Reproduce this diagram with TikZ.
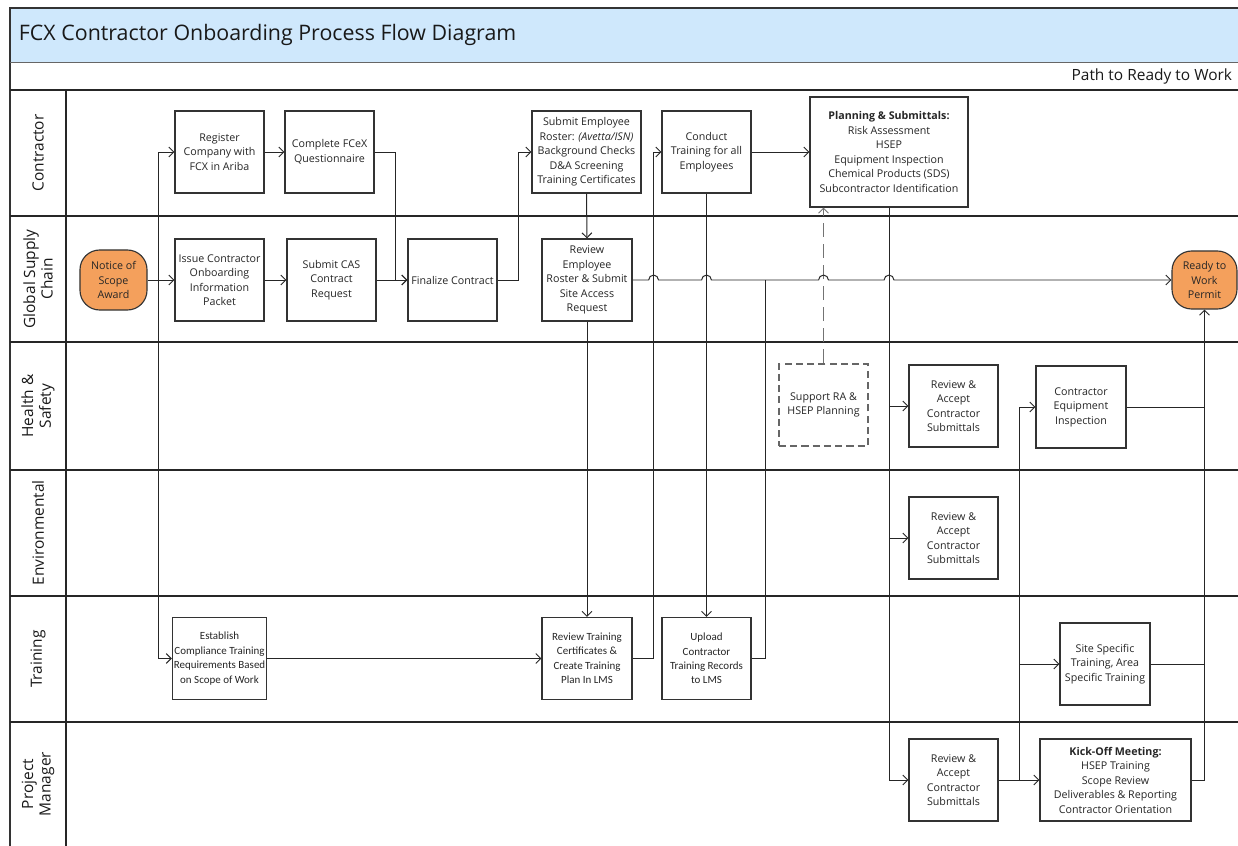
\documentclass[tikz,border=0pt]{standalone}
\usepackage{fontspec}
\setmainfont{Open Sans}
\newfontfamily\narrowfont{Carlito}
\usetikzlibrary{arrows.meta}
\definecolor{titleblue}{RGB}{207,232,252}
\definecolor{termorange}{RGB}{244,160,92}
\tikzset{
  proc/.style={draw=black!80, line width=0.8pt, fill=white, align=center, text=black!85,
    font=\fontsize{7.6}{10.3}\selectfont, minimum width=2.225cm, minimum height=2.05cm, inner sep=1pt},
  narrow/.style={font=\narrowfont\fontsize{7.8}{10.3}\selectfont},
  term/.style={proc, fill=termorange, rounded corners=14pt, minimum width=1.675cm, minimum height=1.5cm},
  flow/.style={line width=0.7pt, draw=black!85, -{Straight Barb[length=3.5pt,width=7pt]}},
  link/.style={line width=0.7pt, draw=black!85},
  lane/.style={line width=1pt, draw=black!85},
  lanelabel/.style={rotate=90, align=center, font=\fontsize{11}{12.5}\selectfont, text=black!90}
}
\newcommand{\hop}[1]{-- ([xshift=-3.5pt]rr.east -| #1) arc[start angle=180, end angle=0, radius=3.5pt]}
\begin{document}
\begin{tikzpicture}[x=0.025cm, y=-0.025cm]
    \useasboundingbox (0,0) rectangle (1238,846);
    \fill [titleblue] (10,8) rectangle (1238,62);
    \draw [black!80, line width=0.8pt] (1238,8) -- (10,8) -- (10,846);
    \draw [black!60, line width=0.6pt] (10,62) -- (1238,62);
    \foreach \y in {90,216,342,470,596,722}
        \draw [lane] (10,\y) -- (1238,\y);
    \draw [lane] (66,90) -- (66,846);
    \node [anchor=west, font=\fontsize{15.2}{17}\selectfont, text=black!90] (title) at (14,35) {FCX Contractor Onboarding Process Flow Diagram};
    \node [anchor=east, font=\fontsize{11}{12}\selectfont, text=black!90] (path) at (1237,76) {Path to Ready to Work};
    \node [lanelabel] (lcon) at (38,153) {Contractor};
    \node [lanelabel] (lgsc) at (38,279) {Global Supply\\Chain};
    \node [lanelabel] (lhs) at (38,406) {Health \&\\Safety};
    \node [lanelabel] (lenv) at (38,533) {Environmental};
    \node [lanelabel] (ltrn) at (38,659) {Training};
    \node [lanelabel] (lpm) at (38,784) {Project\\Manager};

    \node [proc] (reg) at (219.5,152) {Register\\Company with\\FCX in Ariba};
    \node [proc] (fc) at (329.5,152) {Complete FCeX\\Questionnaire};
    \node [proc, minimum width=2.725cm] (ser) at (586.5,152) {Submit Employee\\Roster: \textit{(Avetta/ISN)}\\Background Checks\\D\&A Screening\\Training Certificates};
    \node [proc] (ct) at (706.5,152) {Conduct\\Training for all\\Employees};
    \node [proc, minimum width=3.95cm, minimum height=2.75cm] (plan) at (889,152) {\textbf{Planning \& Submittals:}\\Risk Assessment\\HSEP\\Equipment Inspection\\Chemical Products (SDS)\\Subcontractor Identification};

    \node [term] (ns) at (113.5,280) {Notice of\\Scope\\Award};
    \node [proc] (ic) at (219.5,280) {Issue Contractor\\Onboarding\\Information\\Packet};
    \node [proc] (cas) at (331.5,280) {Submit CAS\\Contract\\Request};
    \node [proc] (fin) at (452.5,280) {Finalize Contract};
    \node [proc, minimum width=2.25cm] (rr) at (587,280) {Review\\Employee\\Roster \& Submit\\Site Access\\Request};
    \node [term, minimum width=1.625cm, minimum height=1.45cm] (ready) at (1204.5,280) {Ready to\\Work\\Permit};

    \node [proc, draw=black!60, dashed, dash pattern=on 5pt off 3pt] (sup) at (823.5,405) {Support RA \&\\HSEP Planning};
    \node [proc] (ra1) at (953.5,406) {Review \&\\Accept\\Contractor\\Submittals};
    \node [proc, minimum width=2.25cm] (cei) at (1081,407) {Contractor\\Equipment\\Inspection};

    \node [proc] (ra2) at (953.5,538) {Review \&\\Accept\\Contractor\\Submittals};

    \node [proc, narrow] (est) at (219.5,658.5) {Establish\\Compliance Training\\Requirements Based\\on Scope of Work};
    \node [proc, narrow, minimum width=2.25cm] (rtc) at (587,658.5) {Review Training\\Certificates \&\\Create Training\\Plan In LMS};
    \node [proc, narrow] (up) at (706.5,658.5) {Upload\\Contractor\\Training Records\\to LMS};
    \node [proc, minimum width=2.25cm] (sst) at (1105,664) {Site Specific\\Training, Area\\Specific Training};

    \node [proc] (ra3) at (953.5,780) {Review \&\\Accept\\Contractor\\Submittals};
    \node [proc, minimum width=3.775cm] (ko) at (1115.5,780) {\textbf{Kick-Off Meeting:}\\HSEP Training\\Scope Review\\Deliverables \& Reporting\\Contractor Orientation};

    \coordinate (k1) at (158,280);
    \draw [flow] (ns.east) -- (ic.west);
    \draw [flow] (k1) |- (reg.west);
    \draw [flow] (k1) |- (est.west);
    \draw [flow] (reg.east) -- (fc.west);
    \draw [flow] (fc.east) -- ++(21,0) |- (fin.west);
    \draw [flow] (ic.east) -- (cas.west);
    \draw [flow] (cas.east) -- (fin.west);
    \draw [flow] (fin.east) -- ++(21,0) |- (ser.west);
    \draw [flow] (ser.south) -- (rr.north);
    \draw [flow] (rr.south) -- (rtc.north);
    \draw [flow] (est.east) -- (rtc.west);
    \draw [flow] (rtc.east) -- ++(21,0) coordinate (k2) |- (ct.west);
    \draw [flow] (ct.south) -- (up.north);
    \draw [flow] (ct.east) -- (plan.west);
    \draw [link] (up.east) -- ++(14,0) coordinate (k3) -- (k3 |- rr.east);
    \draw [flow, draw=black!55, dash pattern=on 10pt off 5pt] (sup.north) -- (sup.north |- plan.south);
    \draw [flow] (rr.east) \hop{k2} \hop{ct.south} \hop{sup.north} \hop{plan.south} -- (ready.west);
    \draw [flow] (plan.south) |- (ra1.west);
    \draw [flow] (plan.south) |- (ra2.west);
    \draw [flow] (plan.south) |- (ra3.west);
    \draw [flow] (ra3.east) -- (ko.west);
    \draw [flow] (ra3.east) -- ++(21,0) coordinate (k4) |- (cei.west);
    \draw [flow] (k4) |- (sst.west);
    \draw [link] (cei.east) -- (cei.east -| ready.south);
    \draw [link] (sst.east) -- (sst.east -| ready.south);
    \draw [flow] (ko.east) -| (ready.south);
\end{tikzpicture}
\end{document}
